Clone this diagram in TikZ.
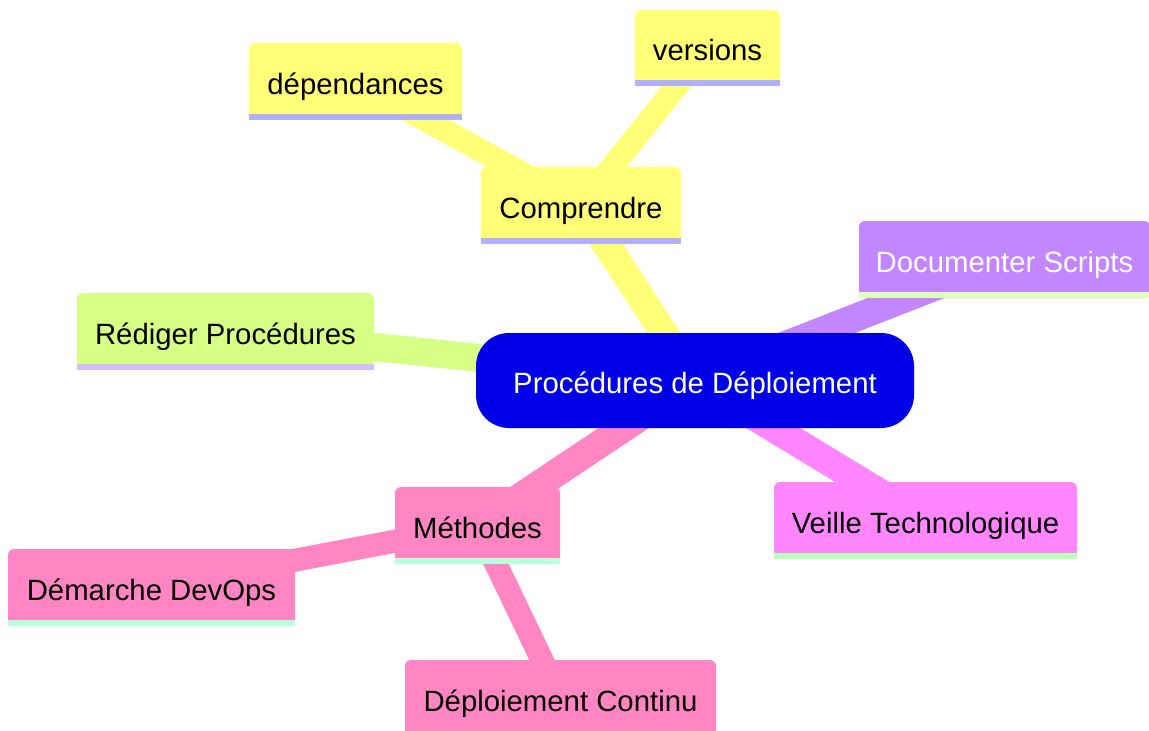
\documentclass[tikz,border=0pt]{standalone}
\usepackage{fontspec}
\setmainfont{Liberation Sans}
\usetikzlibrary{backgrounds}
\definecolor{cyel}{HTML}{FFFF78}
\definecolor{cgrn}{HTML}{D7FF86}
\definecolor{cpur}{HTML}{C286FF}
\definecolor{cmag}{HTML}{FF86FF}
\definecolor{cpnk}{HTML}{FF86C2}
\definecolor{croot}{HTML}{0000E8}
\definecolor{byel}{HTML}{B0B0FF}
\definecolor{bgrn}{HTML}{D4BEFF}
\definecolor{bpur}{HTML}{DDFFBB}
\definecolor{bmag}{HTML}{BBFFBB}
\definecolor{bpnk}{HTML}{BBFFDD}
\begin{document}
\begin{tikzpicture}[x=0.75pt,y=-0.75pt,
  mm/.style={rectangle, rounded corners=4.5pt, inner sep=0pt, text=black,
    text height=22pt, text depth=2.5pt,
    font=\fontsize{22}{26}\selectfont},
  mmsize/.style 2 args={minimum width=#1*0.75pt, minimum height=#2*0.75pt},
  rootbox/.style={rectangle, rounded corners=24.75pt, inner sep=0pt, text=white,
    text height=22pt, text depth=2.5pt,
    fill=croot, font=\fontsize{22}{26}\selectfont},
  trunk/.style={line width=21pt},
  twig/.style={line width=17.25pt}]
\useasboundingbox (0,0) rectangle (1149,731);

\node[rootbox, mmsize={438}{95}] (root) at (695,380.5) {Procédures de Déploiement};

\node[mm, fill=cyel, mmsize={200}{77}] (comp) at (581,205.5) {Comprendre};
\fill[byel] ([yshift=4.5pt]comp.south west) rectangle (comp.south east);
\node[mm, fill=cyel, mmsize={213}{77}] (dep) at (355.5,81.5) {dépendances};
\fill[byel] ([yshift=4.5pt]dep.south west) rectangle (dep.south east);
\node[mm, fill=cyel, mmsize={145}{76}] (ver) at (707.5,48) {versions};
\fill[byel] ([yshift=4.5pt]ver.south west) rectangle (ver.south east);

\node[mm, fill=cpur, text=white, mmsize={291}{77}] (doc) at (1004.5,259.5) {Documenter Scripts};
\fill[bpur] ([yshift=4.5pt]doc.south west) rectangle (doc.south east);

\node[mm, fill=cgrn, mmsize={297}{77}] (red) at (225.5,331.5) {Rédiger Procédures};
\fill[bgrn] ([yshift=4.5pt]red.south west) rectangle (red.south east);

\node[mm, fill=cpnk, mmsize={165}{77}] (met) at (477.5,525.5) {Méthodes};
\fill[bpnk] ([yshift=4.5pt]met.south west) rectangle (met.south east);
\node[mm, fill=cpnk, mmsize={287}{77}] (dem) at (151.5,587.5) {Démarche DevOps};
\fill[bpnk] ([yshift=4.5pt]dem.south west) rectangle (dem.south east);
\node[mm, fill=cpnk, mmsize={311}{77}] (dc) at (560.5,698.5) {Déploiement Continu};
\fill[bpnk] ([yshift=4.5pt]dc.south west) rectangle (dc.south east);

\node[mm, fill=cmag, mmsize={303}{77}] (veil) at (925.5,520.5) {Veille Technologique};
\fill[bmag] ([yshift=4.5pt]veil.south west) rectangle (veil.south east);

\begin{scope}[on background layer]
  \fill[white] (0,0) rectangle (1149,731);
  \draw[trunk, cyel] (root.center) -- (comp.center);
  \draw[twig, cyel] (comp.center) -- (dep.center);
  \draw[twig, cyel] (comp.center) -- (ver.center);
  \draw[trunk, cpur] (root.center) -- (doc.center);
  \draw[trunk, cgrn] (root.center) -- (red.center);
  \draw[trunk, cpnk] (root.center) -- (met.center);
  \draw[twig, cpnk] (met.center) -- (dem.center);
  \draw[twig, cpnk] (met.center) -- (dc.center);
  \draw[trunk, cmag] (root.center) -- (veil.center);
\end{scope}
\end{tikzpicture}
\end{document}
